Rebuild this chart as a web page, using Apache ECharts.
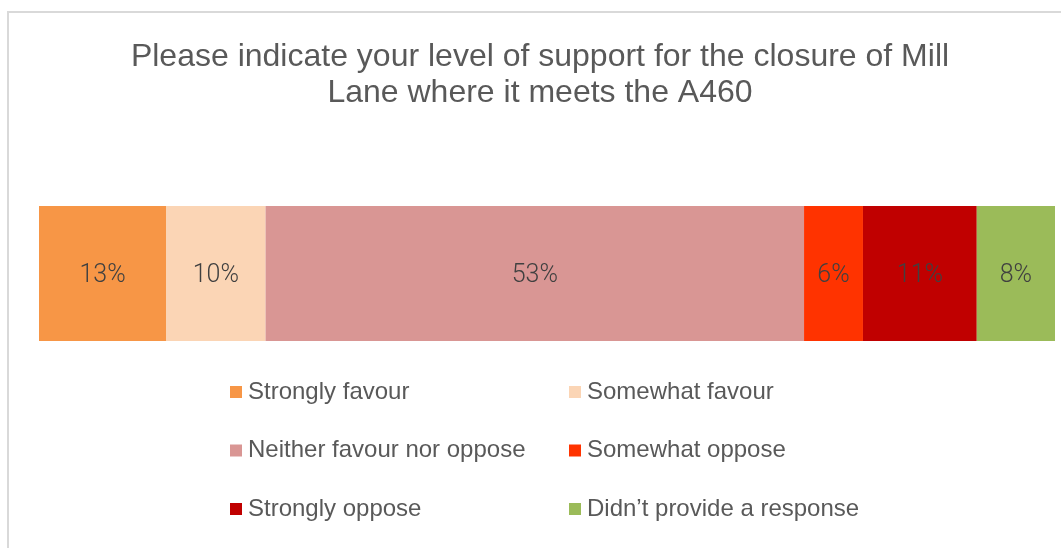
<!DOCTYPE html>
<html><head><meta charset="utf-8">
<script src="https://cdn.jsdelivr.net/npm/echarts@6/dist/echarts.min.js"></script>
<style>html,body{margin:0;padding:0;background:#fff}#c{width:1061px;height:548px}</style>
</head><body><div id="c"></div>
<script>
const titleText = 'Please indicate your level of support for the closure of Mill\nLane where it meets the A460';
const categories = ['Closure of Mill Lane'];
const seriesNames = ['Strongly favour','Somewhat favour','Neither favour nor oppose','Somewhat oppose','Strongly oppose','Didn\u2019t provide a response'];
const seriesValues = [12.5, 9.8, 53.0, 5.8, 11.2, 7.7];
const seriesColors = ['#F79646','#FBD5B5','#D99694','#FF3300','#C00000','#9BBB59'];

const chart = echarts.init(document.getElementById('c'));
const series = seriesNames.map((n,i)=>({
  name:n, type:'bar', stack:'total', barWidth:'100%',
  data:[seriesValues[i]],
  itemStyle:{color:seriesColors[i]},
  label:{show:true, position:'inside', offset:[0,2], formatter:p=>Math.round(p.value)+'%',
    color:'#404040', fontSize:25, fontFamily:'Roboto', fontWeight:300},
  emphasis:{disabled:true}
}));
const legendText = {color:'#595959', fontSize:24, fontFamily:'Liberation Sans, Arial', lineHeight:24, padding:[0,0,0,1]};
chart.setOption({
  animation:false,
  graphic:[{type:'rect', shape:{x:8,y:12,width:1200,height:700}, style:{fill:'none', stroke:'#d9d9d9', lineWidth:2}, silent:true}],
  title:{text:titleText, left:535, top:34, textAlign:'center',
    textStyle:{color:'#595959', fontSize:32, fontWeight:'normal', fontFamily:'Liberation Sans, Arial', lineHeight:36}},
  grid:{left:39, right:6, top:206, bottom:207},
  xAxis:{type:'value', min:0, max:100, show:false},
  yAxis:{type:'category', data:categories, show:false},
  legend:[
    {data:[seriesNames[0],seriesNames[2],seriesNames[4]], orient:'vertical', left:230, top:380, padding:0, itemWidth:12, itemHeight:12, itemGap:34.5, icon:'rect', textStyle:legendText, selectedMode:false},
    {data:[seriesNames[1],seriesNames[3],seriesNames[5]], orient:'vertical', left:569, top:380, padding:0, itemWidth:12, itemHeight:12, itemGap:34.5, icon:'rect', textStyle:legendText, selectedMode:false}
  ],
  series:series
});
</script></body></html>
